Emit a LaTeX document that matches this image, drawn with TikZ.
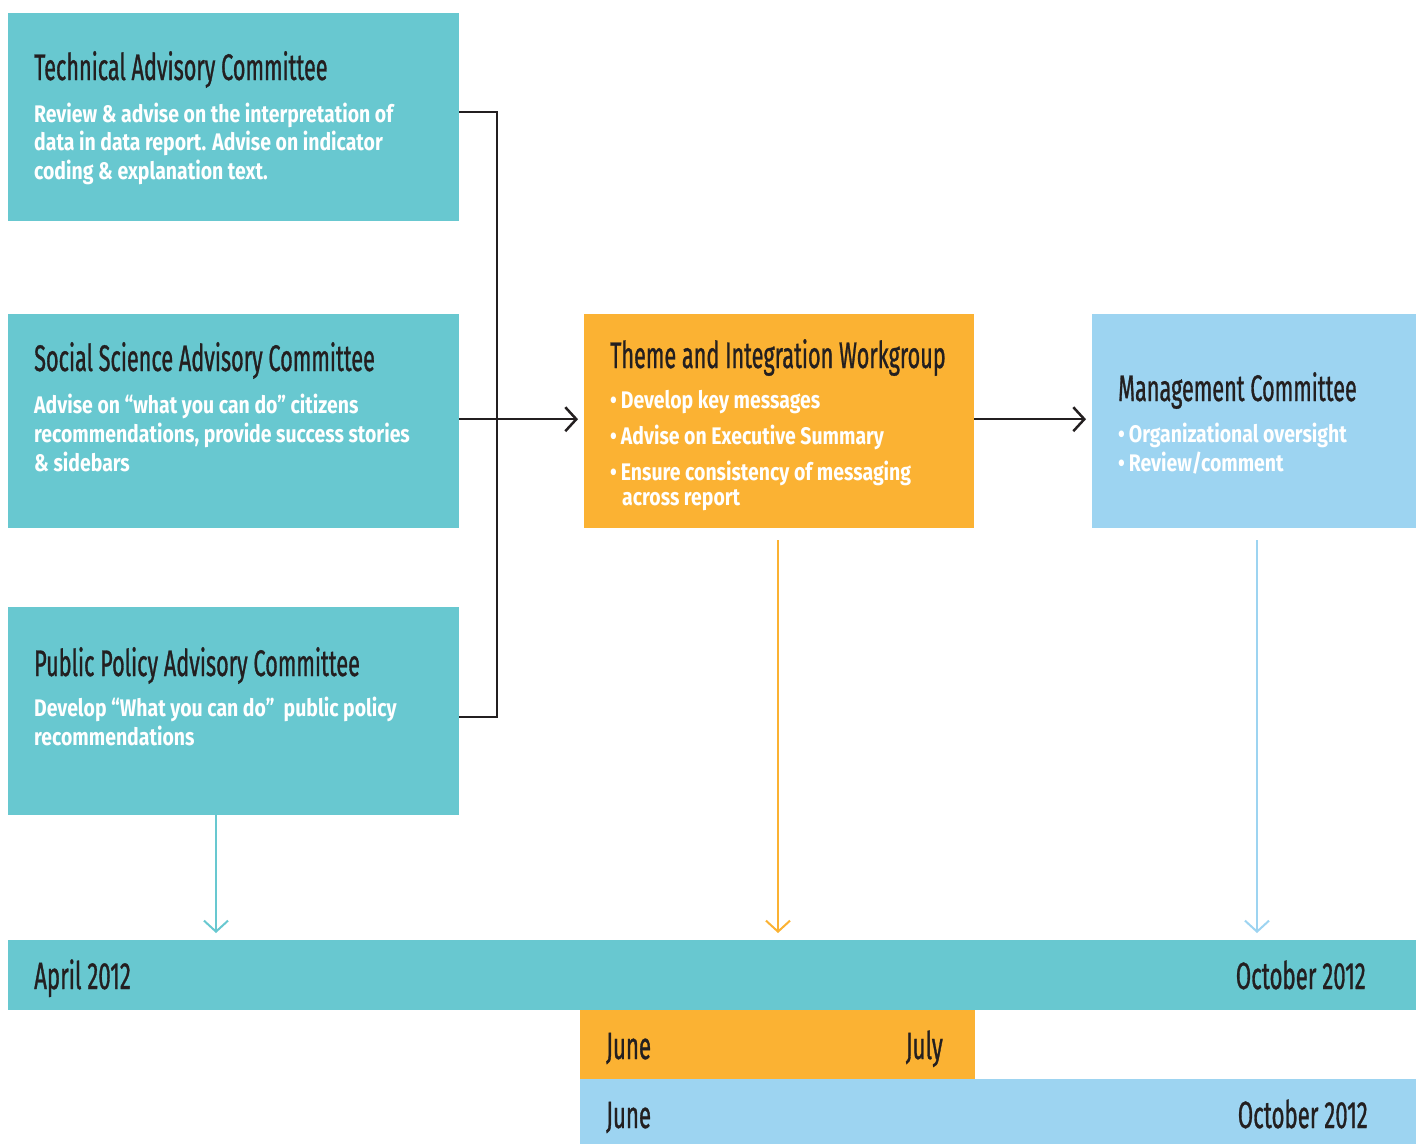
\documentclass[tikz,border=0pt]{standalone}
\usepackage{fontspec}
\usepackage{tikz}
\usetikzlibrary{arrows.meta}
\newfontfamily\headfont{Fira Sans}[FakeStretch=0.585,FakeBold=0.8]
\newfontfamily\bodyfont{Fira Sans}[FakeStretch=0.81]

\begin{document}
\begin{tikzpicture}[x=1pt,y=-1pt,
  panel/.style={fill=#1,inner sep=0pt,anchor=north west},
  headtxt/.style={anchor=base west,inner sep=0pt,text=cdark,font=\headfont\fontsize{37}{40}\selectfont},
  bodytxt/.style={anchor=base west,inner sep=0pt,text=white,font=\bodyfont\bfseries\fontsize{24}{28}\selectfont},
  datetxt/.style={inner sep=0pt,text=cdark,font=\headfont\fontsize{38}{40}\selectfont},
  link/.style={line width=2.5pt,draw=cdark},
  barb/.style={-{Straight Barb[length=11pt,width=24pt,line width=2.5pt]}},
  drop/.style={line width=2pt,draw=#1,-{Straight Barb[length=11pt,width=24pt]}}]
  \definecolor{cteal}{RGB}{104,200,208}
  \definecolor{corange}{RGB}{251,178,51}
  \definecolor{csky}{RGB}{157,212,241}
  \definecolor{cdark}{RGB}{35,31,32}
  \useasboundingbox (0,0) rectangle (1416,1144);
  \node[panel=cteal,minimum width=451pt,minimum height=208pt] (tac) at (8,13) {};
  \node[panel=cteal,minimum width=451pt,minimum height=214pt] (ssac) at (8,314) {};
  \node[panel=cteal,minimum width=451pt,minimum height=208pt] (ppac) at (8,607) {};
  \node[panel=corange,minimum width=390pt,minimum height=214pt] (theme) at (584,314) {};
  \node[panel=csky,minimum width=324pt,minimum height=214pt] (mgmt) at (1092,314) {};
  \node[panel=cteal,minimum width=1408pt,minimum height=70pt] (tline) at (8,940) {};
  \node[panel=corange,minimum width=395pt,minimum height=69pt] (tbar) at (580,1010) {};
  \node[panel=csky,minimum width=836pt,minimum height=65pt] (mbar) at (580,1079) {};
  \node[headtxt] (tachead) at (34,80) {Technical Advisory Committee};
  \foreach \yy/\txt in {122/Review \& advise on the interpretation of,
      150/data in data report. Advise on indicator,
      179/coding \& explanation text.}{%
    \node[bodytxt] at (34,\yy) {\txt};
  }
  \node[headtxt] (ssachead) at (34,371) {Social Science Advisory Committee};
  \foreach \yy/\txt in {413/Advise on “what you can do” citizens,
      442/{recommendations, provide success stories},
      471/\& sidebars}{%
    \node[bodytxt] at (34,\yy) {\txt};
  }
  \node[headtxt] (ppachead) at (34,676) {Public Policy Advisory Committee};
  \foreach \yy/\txt in {716/Develop “What you can do”\ \ public policy,
      745/recommendations}{%
    \node[bodytxt] at (34,\yy) {\txt};
  }
  \node[headtxt] (themehead) at (610,368) {Theme and Integration Workgroup};
  \foreach \yy/\txt in {408/Develop key messages,444/Advise on Executive Summary,
      480/Ensure consistency of messaging}{%
    \node[bodytxt] at (610,\yy) {•\,\txt};
  }
  \node[bodytxt] at (622,505) {across report};
  \node[headtxt] (mgmthead) at (1118,401) {Management Committee};
  \foreach \yy/\txt in {442/Organizational oversight,471/{Review/comment}}{%
    \node[bodytxt] at (1118,\yy) {•\,\txt};
  }
  \node[datetxt,anchor=base west] at (34,989) {April 2012};
  \node[datetxt,anchor=base east] at (1366,989) {October 2012};
  \node[datetxt,anchor=base west] at (606,1059) {June};
  \node[datetxt,anchor=base east] at (943,1059) {July};
  \node[datetxt,anchor=base west] at (606,1128) {June};
  \node[datetxt,anchor=base east] at (1368,1128) {October 2012};
  \coordinate (spine) at (497,419);
  \draw[link] ([yshift=5pt]tac.east) -| (spine) |- ([yshift=-6pt]ppac.east);
  \draw[link,barb] ([yshift=2pt]ssac.east) -- ([xshift=-6pt,yshift=2pt]theme.west);
  \draw[link,barb] ([yshift=2pt]theme.east) -- ([xshift=-6pt,yshift=2pt]mgmt.west);
  \coordinate (d1) at (216,933);
  \coordinate (d2) at (778,933);
  \coordinate (d3) at (1257,933);
  \draw[drop=cteal] (d1 |- ppac.south) -- (d1);
  \draw[drop=corange] (d2 |- theme.south) ++(0,12) -- (d2);
  \draw[drop=csky] (d3 |- mgmt.south) ++(0,12) -- (d3);
\end{tikzpicture}
\end{document}
